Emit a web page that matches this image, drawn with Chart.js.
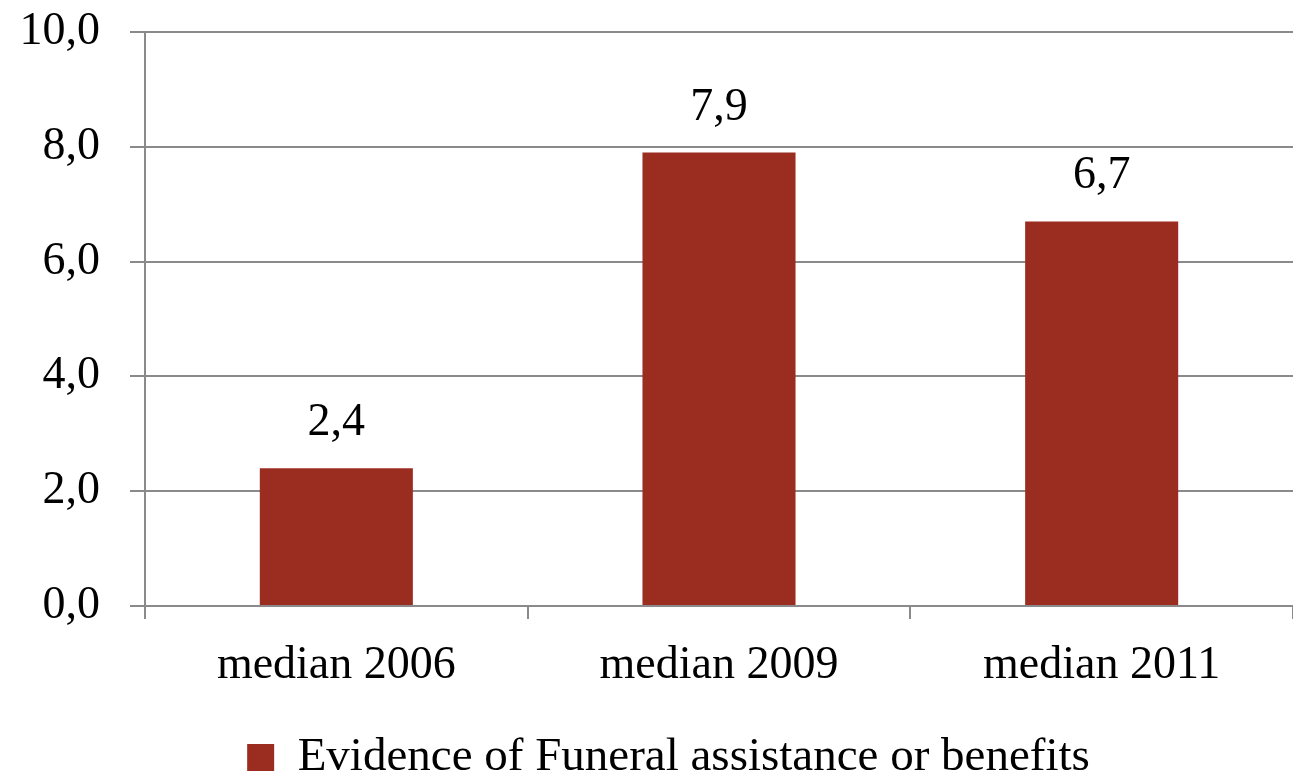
<!DOCTYPE html>
<html>
<head>
<meta charset="utf-8">
<script src="https://cdn.jsdelivr.net/npm/chart.js"></script>
<style>
  html, body { margin: 0; padding: 0; background: #fff; }
  #wrap { width: 1293px; height: 775px; }
</style>
</head>
<body>
<div id="wrap"><canvas id="bar-chart" width="1293" height="775"></canvas></div>
<script>
var categories = ["median 2006", "median 2009", "median 2011"];
var funeralData = [2.4, 7.9, 6.7];
var seriesName = "Evidence of Funeral assistance or benefits";
var yTicks = [0, 2, 4, 6, 8, 10];

var barColor = "#9b2d20";
var gridColor = "#8a8a8a";
var serif = "'Liberation Serif', 'DejaVu Serif', serif";

function fmt(v) {
  return v.toFixed(1).replace(".", ",");
}

// labels over the bars
var valueLabels = {
  id: "valueLabels",
  afterDatasetsDraw: function (chart) {
    var ctx = chart.ctx;
    var meta = chart.getDatasetMeta(0);
    ctx.save();
    ctx.font = "46px " + serif;
    ctx.fillStyle = "#000";
    ctx.textAlign = "center";
    ctx.textBaseline = "alphabetic";
    meta.data.forEach(function (bar, i) {
      ctx.fillText(fmt(funeralData[i]), bar.x, bar.y - 33);
    });
    ctx.restore();
  }
};

// nudge the legend a bit lower and to the right
var legendNudge = {
  id: "legendNudge",
  beforeDraw: function (chart) {
    var lg = chart.legend;
    if (!lg || lg._nudged) return;
    lg.top += 16; lg.bottom += 16;
    lg.left += 22; lg.right += 22;
    lg._nudged = true;
  }
};

new Chart(document.getElementById("bar-chart"), {
  type: "bar",
  data: {
    labels: categories,
    datasets: [{
      label: seriesName,
      data: funeralData,
      backgroundColor: barColor,
      borderWidth: 0,
      categoryPercentage: 1,
      barPercentage: 0.4
    }]
  },
  options: {
    responsive: false,
    animation: false,
    layout: { padding: { top: 32, right: 0, bottom: 0, left: 0 } },
    plugins: {
      legend: {
        position: "bottom",
        labels: {
          font: { family: serif, size: 47, lineHeight: 1 },
          color: "#000",
          boxWidth: 27,
          boxHeight: 27,
          padding: 0
        }
      },
      tooltip: { enabled: false }
    },
    scales: {
      y: {
        min: 0,
        max: 10,
        afterBuildTicks: function (scale) {
          scale.ticks = yTicks.map(function (v) { return { value: v }; });
        },
        afterFit: function (scale) {
          scale.width = 145;
          scale.paddingTop = 0;
          scale.paddingBottom = 0;
        },
        ticks: {
          font: { family: serif, size: 46 },
          color: "#000",
          padding: 30,
          callback: function (v) { return fmt(v); }
        },
        grid: { color: gridColor, lineWidth: 2, tickLength: 15 },
        border: { color: gridColor, width: 2 }
      },
      x: {
        afterFit: function (scale) {
          scale.height = 112;
          scale.paddingLeft = 0;
          scale.paddingRight = 0;
        },
        ticks: {
          font: { family: serif, size: 46 },
          color: "#000",
          padding: 19
        },
        grid: { offset: true, drawOnChartArea: false, color: gridColor, lineWidth: 2, tickLength: 13 },
        border: { color: gridColor, width: 2 }
      }
    }
  },
  plugins: [valueLabels, legendNudge]
});
</script>
</body>
</html>
